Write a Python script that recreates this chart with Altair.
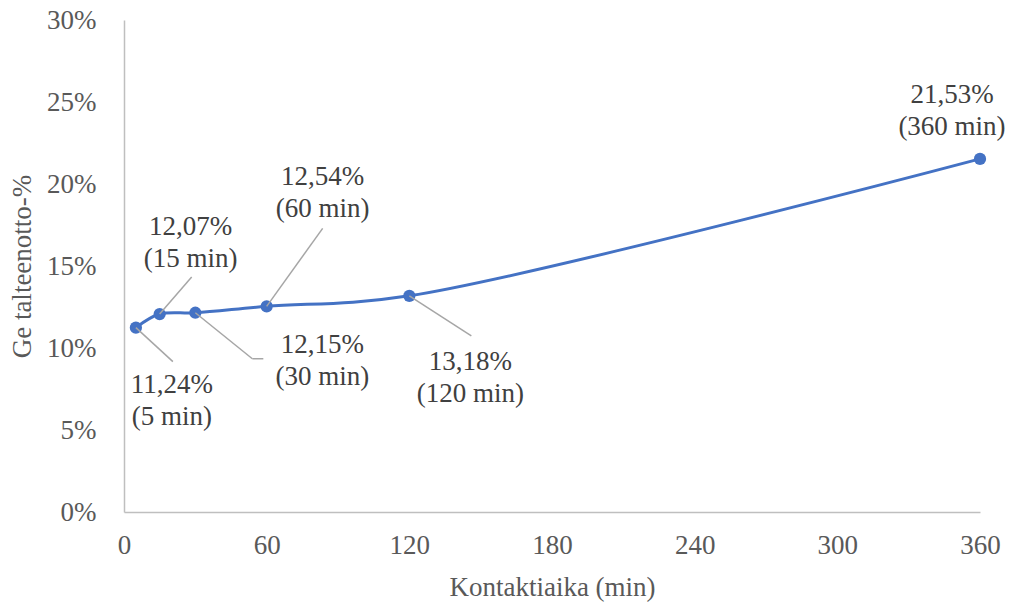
import altair as alt
import pandas as pd

# Germanium recovery vs. contact time
minutes = [5, 15, 30, 60, 120, 360]
recovery_pct = [11.24, 12.07, 12.15, 12.54, 13.18, 21.53]
x_ticks = [0, 60, 120, 180, 240, 300, 360]

df = pd.DataFrame({
    "min": minutes,
    "rec": [v / 100 for v in recovery_pct],
    "label": [f"{v:.2f}".replace(".", ",") + f"%\n({m} min)" for m, v in zip(minutes, recovery_pct)],
})

FONT = "'Liberation Serif', 'DejaVu Serif', serif"
BLUE = "#4472C4"
LEADER = "#A6A6A6"

# first-line label offsets (px) and leader-line segments (px, relative to the point)
label_offsets = {5: (36, 57), 15: (31, -87), 30: (127, 32), 60: (56, -129), 120: (61, 66), 360: (-28, -64)}
leaders = {
    5: [(0, 0, 37, 34)],
    15: [(0, 0, 32, -37)],
    30: [(0, 0, 57, 46), (57, 46, 68, 46)],
    60: [(0, 0, 56, -78)],
    120: [(0, 0, 62, 40)],
}

x_enc = alt.X("min:Q", scale=alt.Scale(domain=[0, 360], nice=False),
              axis=alt.Axis(values=x_ticks, title="Kontaktiaika (min)", grid=False,
                            ticks=False, labelFlush=False, domainColor="#BFBFBF", domainWidth=1.5,
                            labelFont=FONT, labelFontSize=27, labelColor="#595959",
                            labelPadding=20, titleFont=FONT, titleFontSize=27,
                            titleFontWeight="normal", titleColor="#595959", titlePadding=16))
y_enc = alt.Y("rec:Q", scale=alt.Scale(domain=[0, 0.30], nice=False),
              axis=alt.Axis(values=[0, 0.05, 0.10, 0.15, 0.20, 0.25, 0.30], format=".0%",
                            title="Ge talteenotto-%", grid=False, ticks=False, labelFlush=False,
                            domainColor="#BFBFBF", domainWidth=1.5,
                            labelFont=FONT, labelFontSize=27, labelColor="#595959",
                            labelPadding=28, titleFont=FONT, titleFontSize=27,
                            titleFontWeight="normal", titleColor="#595959", titlePadding=10))

base = alt.Chart(df)

line = base.mark_line(color=BLUE, strokeWidth=3, interpolate="catmull-rom").encode(x=x_enc, y=y_enc)
points = base.mark_circle(color=BLUE, size=150, opacity=1).encode(x="min:Q", y="rec:Q")

layers = [line, points]
for m, segs in leaders.items():
    for (x0, y0, x1, y1) in segs:
        layers.append(
            base.transform_filter(alt.datum.min == m)
            .mark_rule(color=LEADER, strokeWidth=1.5, xOffset=x0, yOffset=y0, x2Offset=x1, y2Offset=y1)
            .encode(x="min:Q", y="rec:Q", x2="min:Q", y2="rec:Q")
        )
for m, (dx, dy) in label_offsets.items():
    layers.append(
        base.transform_filter(alt.datum.min == m)
        .mark_text(font=FONT, fontSize=27, color="#404040", dx=dx, dy=dy,
                   align="center", baseline="middle", lineBreak="\n", lineHeight=32)
        .encode(x="min:Q", y="rec:Q", text="label:N")
    )

chart = alt.layer(*layers).properties(
    width=856, height=492,
    padding={"left": 124, "top": 20, "right": 37, "bottom": 96},
    autosize="none",
    background="white",
).configure_view(stroke=None)

chart.save("out.html", embed_options={"renderer": "svg", "actions": False})
